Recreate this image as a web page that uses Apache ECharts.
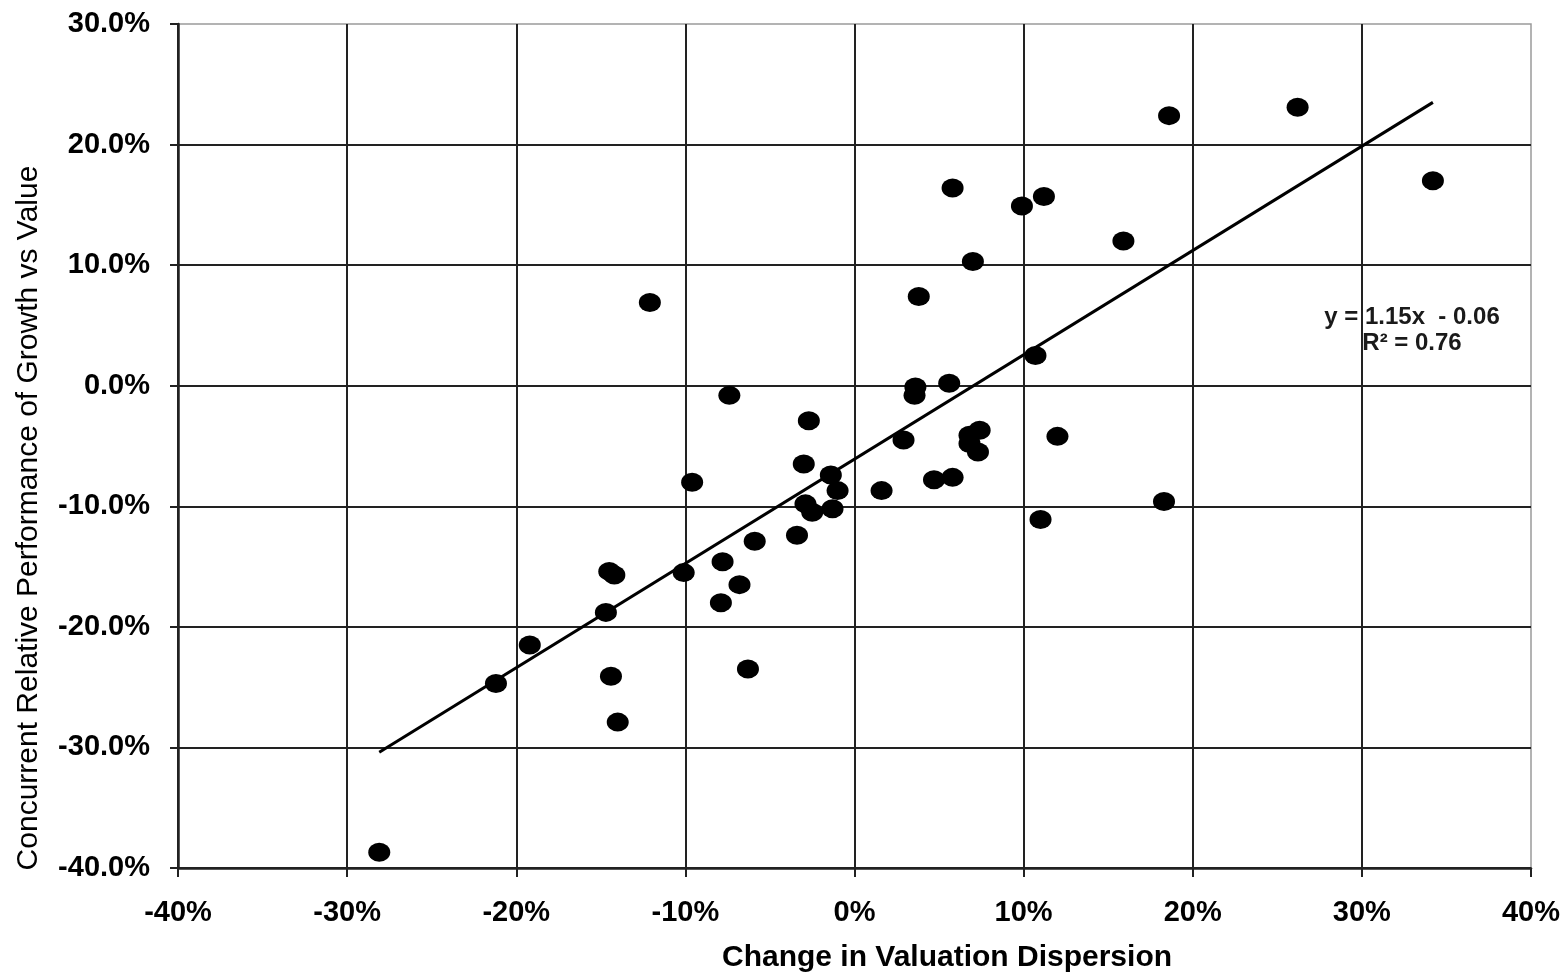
<!DOCTYPE html>
<html>
<head>
<meta charset="utf-8">
<script src="https://cdn.jsdelivr.net/npm/echarts@6/dist/echarts.min.js"></script>
<style>
  html, body { margin: 0; padding: 0; background: #fff; }
  #chart { width: 1566px; height: 973px; }
</style>
</head>
<body>
<div id="chart"></div>
<script>
// Change in valuation dispersion (%), x values
const dispersionChange = [
  -28.1, -21.2, -19.2, -14.7, -14.5, -14.2, -14.4, -14.0, -12.1, -10.1,
  -9.6, -7.8, -7.9, -7.4, -6.8, -6.3, -5.9, -3.4, -3.0, -2.7,
  -2.9, -2.5, -1.4, -1.3, -1.0, 1.6, 2.9, 3.55, 3.6, 3.8,
  4.7, 5.6, 5.8, 5.8, 6.8, 6.8, 7.0, 7.3, 7.4, 9.9,
  10.7, 11.0, 11.2, 12.0, 15.9, 18.3, 18.6, 26.2, 34.2
];
// Concurrent relative performance of growth vs value (%), y values
const relativePerformance = [
  -38.7, -24.7, -21.5, -18.8, -15.4, -15.7, -24.1, -27.9, 6.9, -15.5,
  -8.0, -14.6, -18.0, -0.8, -16.5, -23.5, -12.9, -12.4, -6.5, -2.9,
  -9.8, -10.5, -7.4, -10.2, -8.7, -8.7, -4.5, -0.8, -0.1, 7.4,
  -7.8, 0.2, -7.6, 16.4, -4.1, -4.8, 10.3, -5.5, -3.7, 14.9,
  2.5, -11.1, 15.7, -4.2, 12.0, -9.6, 22.4, 23.1, 17.0
];
// Trend line end points as drawn (%)
const trendX = [-28.1, 34.2];
const trendY = [-30.4, 23.5];
// Axis ranges / ticks
const xTicks = [-40, -30, -20, -10, 0, 10, 20, 30, 40];
const yTicks = [-40, -30, -20, -10, 0, 10, 20, 30];
const xTitle = 'Change in Valuation Dispersion';
const yTitle = 'Concurrent Relative Performance of Growth vs Value';
const equationText = 'y = 1.15x  - 0.06';
const r2Text = 'R\u00B2 = 0.76';

const FONT = '"Liberation Sans", Arial, sans-serif';

const points = dispersionChange.map((x, i) => [x, relativePerformance[i]]);
const trend = trendX.map((x, i) => [x, trendY[i]]);

const chart = echarts.init(document.getElementById('chart'), null, { renderer: 'canvas' });
chart.setOption({
  animation: false,
  backgroundColor: '#ffffff',
  grid: {
    left: 178, right: 35, top: 24, bottom: 105,
    show: true, borderColor: '#9a9a9a', borderWidth: 1.5, backgroundColor: 'transparent'
  },
  xAxis: {
    type: 'value',
    min: xTicks[0], max: xTicks[xTicks.length - 1], interval: 10,
    axisLine: { show: true, onZero: false, lineStyle: { color: '#222', width: 2.5 } },
    axisTick: { show: true, inside: false, length: 9, lineStyle: { color: '#222', width: 2 } },
    axisLabel: {
      margin: 30, fontFamily: FONT, fontWeight: 'bold', fontSize: 29, color: '#000',
      formatter: v => v + '%'
    },
    splitLine: { show: true, showMaxLine: false, lineStyle: { color: '#222', width: 2 } }
  },
  yAxis: {
    type: 'value',
    min: yTicks[0], max: yTicks[yTicks.length - 1], interval: 10,
    axisLine: { show: true, onZero: false, lineStyle: { color: '#222', width: 2.5 } },
    axisTick: { show: true, inside: false, length: 8, lineStyle: { color: '#222', width: 2 } },
    axisLabel: {
      margin: 28, fontFamily: FONT, fontWeight: 'bold', fontSize: 29, color: '#000',
      formatter: v => v.toFixed(1) + '%'
    },
    splitLine: { show: true, showMaxLine: false, lineStyle: { color: '#222', width: 2 } }
  },
  graphic: [
    {
      type: 'text', x: 29, y: 518, rotation: Math.PI / 2,
      style: {
        text: yTitle,
        font: 'normal 30px ' + FONT, fill: '#000',
        textAlign: 'center', textVerticalAlign: 'middle'
      },
      z: 10
    },
    {
      type: 'text', x: 947, y: 958,
      style: {
        text: xTitle,
        font: 'bold 30px ' + FONT, fill: '#000',
        textAlign: 'center', textVerticalAlign: 'middle'
      },
      z: 10
    },
    {
      type: 'text', x: 1412, y: 317,
      style: {
        text: equationText, font: 'bold 24px ' + FONT, fill: '#1a1a1a',
        textAlign: 'center', textVerticalAlign: 'middle'
      },
      z: 10
    },
    {
      type: 'text', x: 1412, y: 343,
      style: {
        text: r2Text, font: 'bold 24px ' + FONT, fill: '#1a1a1a',
        textAlign: 'center', textVerticalAlign: 'middle'
      },
      z: 10
    }
  ],
  series: [
    {
      type: 'scatter',
      data: points,
      symbol: 'circle',
      symbolSize: [22, 19],
      itemStyle: { color: '#000', opacity: 1 },
      z: 3
    },
    {
      type: 'line',
      data: trend,
      symbol: 'none',
      lineStyle: { color: '#000', width: 3 },
      z: 4
    }
  ]
});
</script>
</body>
</html>
